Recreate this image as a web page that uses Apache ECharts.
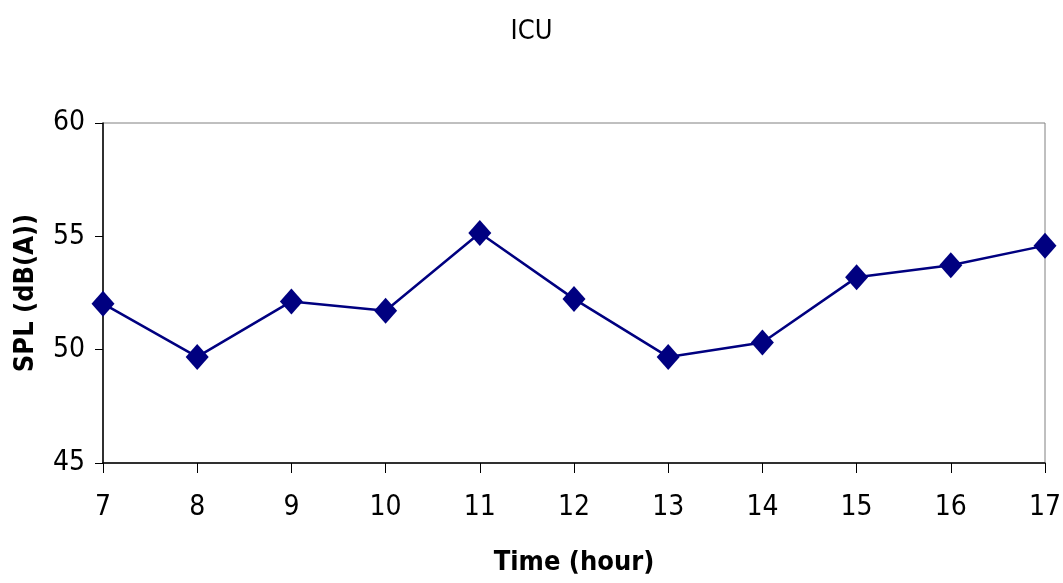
<!DOCTYPE html>
<html>
<head>
<meta charset="utf-8">
<script src="https://cdn.jsdelivr.net/npm/echarts@6/dist/echarts.min.js"></script>
<style>html,body{margin:0;padding:0;background:#fff}#c{width:1063px;height:583px}</style>
</head>
<body>
<div id="c"></div>
<script>
const hours = [7, 8, 9, 10, 11, 12, 13, 14, 15, 16, 17];
const spl = [52.03, 49.68, 52.13, 51.72, 55.15, 52.24, 49.68, 50.32, 53.19, 53.72, 54.59];
const titleText = 'ICU';
const xName = 'Time (hour)';
const yName = 'SPL (dB(A))';

const FONT = '"Liberation Sans Narrow", "DejaVu Sans Condensed", "Liberation Sans", Arial, sans-serif';
const chart = echarts.init(document.getElementById('c'), null, {renderer: 'canvas'});
chart.setOption({
  backgroundColor: '#fff',
  animation: false,
  title: {
    text: titleText, left: 'center', top: 13,
    textStyle: {fontFamily: FONT, fontSize: 27, fontWeight: 'normal', color: '#000'}
  },
  grid: {left: 103, right: 18, top: 123, bottom: 120, show: true, borderColor: '#808080', borderWidth: 1,
         containLabel: false, outerBoundsMode: 'none'},
  xAxis: {
    type: 'value', min: 7, max: 17, interval: 1,
    name: xName, nameLocation: 'middle', nameGap: 86,
    nameTextStyle: {fontFamily: FONT, fontSize: 27, fontWeight: 'bold', color: '#000'},
    axisLine: {show: true, lineStyle: {color: '#000', width: 1.5}},
    axisTick: {show: true, length: 10, lineStyle: {color: '#000'}},
    axisLabel: {fontFamily: FONT, fontSize: 28, color: '#000', margin: 31},
    splitLine: {show: false}
  },
  yAxis: {
    type: 'value', min: 45, max: 60, interval: 5,
    name: yName, nameLocation: 'middle', nameGap: 64,
    nameTextStyle: {fontFamily: FONT, fontSize: 27, fontWeight: 'bold', color: '#000'},
    axisLine: {show: true, lineStyle: {color: '#000', width: 1.5}},
    axisTick: {show: true, length: 8, lineStyle: {color: '#000'}},
    axisLabel: {fontFamily: FONT, fontSize: 28, color: '#000', margin: 18},
    splitLine: {show: false}
  },
  series: [{
    type: 'line',
    data: hours.map((h, i) => [h, spl[i]]),
    symbol: 'diamond',
    symbolSize: [23, 26],
    itemStyle: {color: '#000080'},
    lineStyle: {color: '#000080', width: 2.5},
    clip: false
  }]
});
</script>
</body>
</html>
